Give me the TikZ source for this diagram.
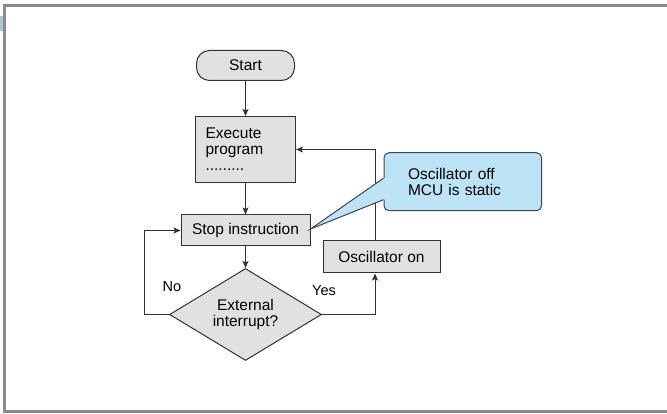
\documentclass[tikz,border=0pt]{standalone}
\usepackage{fontspec}
\setmainfont{Liberation Sans}
\usetikzlibrary{shapes.geometric,arrows.meta}

\definecolor{framegray}{HTML}{8A8A8C}
\definecolor{markblue}{HTML}{A9C6D2}
\definecolor{boxfill}{HTML}{E1E1E1}
\definecolor{boxline}{HTML}{333333}
\definecolor{notefill}{HTML}{BCE4F6}
\definecolor{noteline}{HTML}{3A4650}

\tikzset{
  base/.style={draw=boxline, line width=1pt, fill=boxfill,
    font=\fontsize{15.5}{16}\selectfont, text=black, inner sep=0pt},
  procbox/.style={base, rectangle},
  termbox/.style={base, rectangle, rounded corners=13pt},
  decision/.style={base, diamond, aspect=1.65, align=center},
  notebox/.style={draw=noteline, line width=1pt, fill=notefill, rounded corners=5pt,
    font=\fontsize{15.5}{16}\selectfont, align=left, inner xsep=24pt, inner ysep=0pt},
  lbl/.style={font=\fontsize{14.5}{16}\selectfont, inner sep=0pt},
  conn/.style={draw=boxline, line width=1pt, -{Stealth[length=7pt,width=6pt,inset=1.5pt]}},
}

\begin{document}
\begin{tikzpicture}[x=1pt,y=-1pt]
\useasboundingbox (0,0) rectangle (667,414);

% page frame and margin tab
\draw[framegray, line width=2.5pt] (670,5.5) -- (4.5,5.5) -- (4.5,411.5) -- (670,411.5);
\fill[markblue] (0,16) rectangle (3.2,31);

% flow chart boxes
\node[termbox, minimum width=98pt, minimum height=30pt] (start) at (245.5,65.5) {Start};
\node[procbox, minimum width=100pt, minimum height=66pt, text width=80pt, inner xsep=10pt, align=left]
  (exec) at (245.5,149.5) {Execute\\program\\.........};
\node[procbox, minimum width=129pt, minimum height=31pt] (stop) at (245.5,230.5) {Stop instruction};
\node[decision, minimum width=152pt, minimum height=92pt] (dia) at (245.5,314.5) {External\\interrupt?};
\node[procbox, minimum width=117pt, minimum height=32pt] (osc) at (381.5,257) {Oscillator on};

% branch labels
\node[lbl] (no) at (172,286.5) {No};
\node[lbl] (yes) at (324,290.5) {Yes};

% connectors
\draw[conn] (start) -- (exec);
\draw[conn] (exec) -- (stop);
\draw[conn] (stop) -- (dia);
\draw[conn] (dia.east) -| ([xshift=-6.5pt]osc.south);
\draw[conn] ([xshift=-6.5pt]osc.north) |- (exec.east);
\draw[conn] (dia.west) -- ++(-25pt,0) |- (stop.west);

% speech-bubble note pointing at the stop instruction
\node[notebox, minimum width=157.5pt, minimum height=58pt, text width=109.5pt]
  (note) at (462.75,181.7) {Oscillator off\\MCU is static};
\coordinate (tip) at ([yshift=1.5pt]stop.east);
\coordinate (pa) at ([yshift=-26pt]note.north west);
\coordinate (pb) at ([yshift=-47.5pt]note.north west);
\fill[notefill] (pa) -- (tip) -- (pb) -- ([xshift=2pt]pb) -- ([xshift=2pt]pa) -- cycle;
\draw[noteline, line width=1pt, line join=miter] (pa) -- (tip) -- (pb);
\end{tikzpicture}
\end{document}
